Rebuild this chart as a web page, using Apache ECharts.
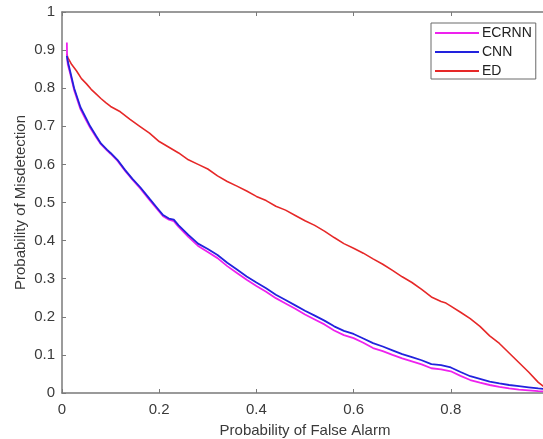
<!DOCTYPE html>
<html>
<head>
<meta charset="utf-8">
<script src="https://cdn.jsdelivr.net/npm/echarts@6/dist/echarts.min.js"></script>
<style>html,body{margin:0;padding:0;background:#fff}#c{width:543px;height:439px}</style>
</head>
<body>
<div id="c"></div>
<script>
var seriesNames = ['ECRNN', 'CNN', 'ED'];
var xTickValues = [0, 0.2, 0.4, 0.6, 0.8, 1];
var yTickValues = [0, 0.1, 0.2, 0.3, 0.4, 0.5, 0.6, 0.7, 0.8, 0.9, 1];

var edX = [0.010,0.012,0.02,0.03,0.04,0.05,0.06,0.07,0.08,0.09,0.10,0.12,0.14,0.16,0.18,0.20,0.22,0.24,0.26,0.28,0.30,0.32,0.34,0.36,0.38,0.40,0.42,0.44,0.46,0.48,0.50,0.52,0.54,0.56,0.58,0.60,0.62,0.64,0.66,0.68,0.70,0.72,0.74,0.76,0.78,0.79,0.80,0.82,0.84,0.86,0.88,0.90,0.92,0.94,0.96,0.98,1.00];
var edY = [0.890,0.880,0.862,0.845,0.825,0.812,0.797,0.785,0.773,0.762,0.752,0.738,0.718,0.700,0.682,0.660,0.645,0.630,0.612,0.600,0.588,0.570,0.555,0.543,0.530,0.516,0.505,0.490,0.480,0.466,0.452,0.440,0.425,0.408,0.392,0.380,0.367,0.352,0.338,0.322,0.305,0.290,0.272,0.252,0.240,0.236,0.228,0.212,0.195,0.175,0.150,0.130,0.105,0.080,0.055,0.028,0.008];

var cnnX = [0.010,0.012,0.017,0.025,0.038,0.05,0.058,0.07,0.08,0.093,0.10,0.114,0.13,0.145,0.161,0.18,0.195,0.208,0.22,0.23,0.24,0.26,0.28,0.30,0.32,0.34,0.36,0.38,0.40,0.42,0.44,0.46,0.48,0.50,0.52,0.54,0.56,0.58,0.60,0.62,0.64,0.66,0.68,0.70,0.72,0.74,0.76,0.78,0.80,0.82,0.84,0.86,0.88,0.90,0.92,0.94,0.96,0.98,1.00];
var cnnY = [0.885,0.870,0.843,0.800,0.750,0.720,0.700,0.675,0.655,0.638,0.630,0.612,0.585,0.562,0.540,0.510,0.487,0.467,0.458,0.455,0.440,0.415,0.392,0.378,0.362,0.342,0.324,0.306,0.290,0.275,0.258,0.244,0.230,0.216,0.203,0.190,0.175,0.163,0.155,0.143,0.131,0.122,0.112,0.102,0.094,0.086,0.076,0.073,0.067,0.055,0.044,0.037,0.030,0.025,0.021,0.018,0.015,0.012,0.010];

var ecrnnX = [0.010,0.0105,0.012,0.017,0.025,0.038,0.05,0.058,0.07,0.08,0.093,0.10,0.114,0.13,0.145,0.161,0.18,0.195,0.208,0.22,0.23,0.24,0.26,0.28,0.30,0.32,0.34,0.36,0.38,0.40,0.42,0.44,0.46,0.48,0.50,0.52,0.54,0.56,0.58,0.60,0.62,0.64,0.66,0.68,0.70,0.72,0.74,0.76,0.78,0.80,0.82,0.84,0.86,0.88,0.90,0.92,0.94,0.96,0.98,1.00];
var ecrnnY = [0.920,0.880,0.862,0.838,0.795,0.745,0.715,0.696,0.672,0.653,0.636,0.628,0.610,0.583,0.560,0.537,0.507,0.484,0.464,0.455,0.451,0.436,0.410,0.386,0.370,0.354,0.333,0.315,0.297,0.281,0.266,0.249,0.235,0.221,0.206,0.193,0.180,0.164,0.152,0.144,0.132,0.118,0.110,0.100,0.091,0.083,0.075,0.065,0.062,0.057,0.045,0.034,0.027,0.021,0.016,0.012,0.009,0.007,0.005,0.004];

function zip(xs, ys) { return xs.map(function (x, i) { return [x, ys[i]]; }); }

var axisGray = '#7a7a7a';
var textGray = '#3a3a3a';
var font = 'Liberation Sans, Arial, sans-serif';

var chart = echarts.init(document.getElementById('c'), null, {renderer: 'canvas'});
chart.setOption({
  animation: false,
  backgroundColor: '#fff',
  grid: {left: 62, right: -5, top: 12, bottom: 46, containLabel: false, outerBoundsMode: 'none'},
  legend: {
    data: seriesNames,
    orient: 'vertical',
    left: 431, top: 23,
    padding: [3, 4, 1, 4],
    itemGap: 5,
    itemWidth: 44, itemHeight: 14,
    icon: 'path://M0,6 L44,6 L44,8 L0,8 Z',
    borderColor: '#6a6a6a', borderWidth: 1,
    backgroundColor: '#fff',
    textStyle: {fontFamily: font, fontSize: 14, color: '#222', padding: [0, 0, 0, -2]}
  },
  xAxis: [{
    type: 'value', min: 0, max: 1, interval: 0.2,
    name: 'Probability of False Alarm', nameLocation: 'middle', nameGap: 30, nameMoveOverlap: false,
    nameTextStyle: {fontFamily: font, fontSize: 15, color: textGray},
    axisLine: {show: true, lineStyle: {color: axisGray, width: 1.5}},
    axisTick: {show: true, inside: true, length: 4, lineStyle: {color: axisGray}},
    axisLabel: {fontFamily: font, fontSize: 15, color: textGray, margin: 9,
      formatter: function (v) { var r = Math.round(v * 10) / 10; return xTickValues.indexOf(r) >= 0 ? String(r) : ''; }},
    splitLine: {show: false}
  }, {
    type: 'value', min: 0, max: 1, interval: 0.2, position: 'top',
    axisLine: {show: true, onZero: false, lineStyle: {color: axisGray, width: 1.5}},
    axisTick: {show: true, inside: true, length: 4, lineStyle: {color: axisGray}},
    axisLabel: {show: false}, splitLine: {show: false}
  }],
  yAxis: [{
    type: 'value', min: 0, max: 1, interval: 0.1,
    name: 'Probability of Misdetection', nameLocation: 'middle', nameGap: 34, nameMoveOverlap: false,
    nameTextStyle: {fontFamily: font, fontSize: 15, color: textGray},
    axisLine: {show: true, lineStyle: {color: axisGray, width: 1.5}},
    axisTick: {show: true, inside: true, length: 4, lineStyle: {color: axisGray}},
    axisLabel: {fontFamily: font, fontSize: 15, color: textGray, margin: 7,
      formatter: function (v) { var r = Math.round(v * 10) / 10; return yTickValues.indexOf(r) >= 0 ? String(r) : ''; }},
    splitLine: {show: false}
  }],
  series: [
    {name: 'ED', type: 'line', data: zip(edX, edY), showSymbol: false, symbol: 'none',
      lineStyle: {color: '#e62828', width: 1.6}, itemStyle: {color: '#e62828'}, z: 2},
    {name: 'ECRNN', type: 'line', data: zip(ecrnnX, ecrnnY), showSymbol: false, symbol: 'none',
      lineStyle: {color: '#ee22ee', width: 1.8}, itemStyle: {color: '#ee22ee'}, z: 3},
    {name: 'CNN', type: 'line', data: zip(cnnX, cnnY), showSymbol: false, symbol: 'none',
      lineStyle: {color: '#2222dd', width: 1.8}, itemStyle: {color: '#2222dd'}, z: 4}
  ]
});
</script>
</body>
</html>
